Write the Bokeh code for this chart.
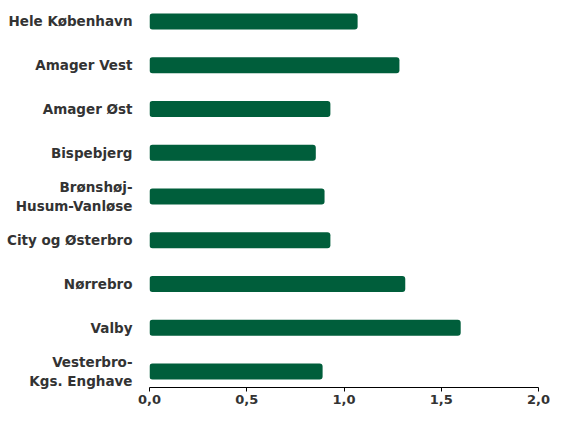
from bokeh.plotting import figure
from bokeh.models import Range1d, FixedTicker, ColumnDataSource
from bokeh.embed import file_html
from bokeh.resources import INLINE

categories = ["Hele København", "Amager Vest", "Amager Øst", "Bispebjerg",
              "Brønshøj-\nHusum-Vanløse", "City og Østerbro", "Nørrebro",
              "Valby", "Vesterbro-\nKgs. Enghave"]
values = [1.07, 1.285, 0.93, 0.855, 0.90, 0.93, 1.315, 1.60, 0.89]
x_ticks = [0.0, 0.5, 1.0, 1.5, 2.0]
x_tick_labels = ["0,0", "0,5", "1,0", "1,5", "2,0"]

positions = list(range(len(categories)))
src = ColumnDataSource(dict(y=positions, v=values, cat=categories))

p = figure(width=550, height=409, output_backend="svg", toolbar_location=None,
           x_range=Range1d(0, 2.0), y_range=Range1d(8.366, -0.48),
           min_border_left=149, min_border_right=12, min_border_top=0,
           min_border_bottom=22)
p.hbar(y="y", right="v", left=0, height=0.366, source=src,
       fill_color="#005e3b", line_color=None, border_radius=3)

p.xgrid.visible = False
p.ygrid.visible = False
p.outline_line_color = None

xa = p.xaxis[0]
xa.ticker = FixedTicker(ticks=x_ticks)
xa.major_label_overrides = {t: l for t, l in zip(x_ticks, x_tick_labels)}
xa.minor_tick_line_color = None
xa.major_tick_in = 0
xa.major_tick_out = 4
xa.axis_line_color = "#000000"
xa.major_tick_line_color = "#000000"
xa.major_label_standoff = 3
xa.major_label_text_font = "DejaVu Sans"
xa.major_label_text_font_style = "bold"
xa.major_label_text_font_size = "13px"
xa.major_label_text_color = "#333333"

ya = p.yaxis[0]
ya.ticker = FixedTicker(ticks=positions)
ya.major_label_overrides = {i: c for i, c in zip(positions, categories)}
ya.axis_line_color = None
ya.major_tick_line_color = None
ya.minor_tick_line_color = None
ya.major_label_standoff = 11
ya.major_label_text_font = "DejaVu Sans"
ya.major_label_text_font_style = "bold"
ya.major_label_text_font_size = "13.5px"
ya.major_label_text_color = "#333333"

open("out.html", "w").write(file_html(p, INLINE))
